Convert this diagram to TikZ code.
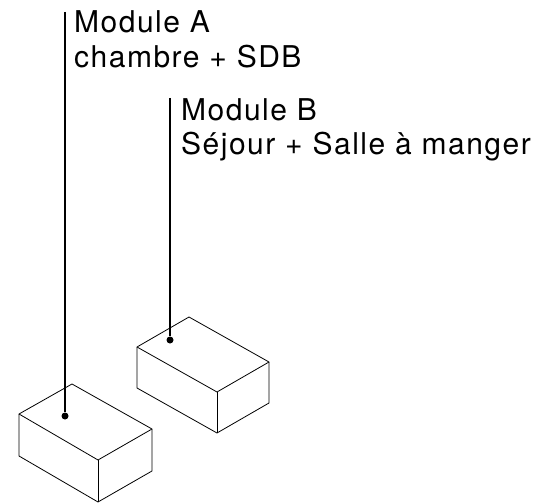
\documentclass[tikz,border=0pt]{standalone}
\usepackage{fontspec}
\setmainfont[LetterSpace=5]{TeX Gyre Heros}
\usetikzlibrary{positioning}

\begin{document}
\begin{tikzpicture}[
	x=1pt, y=-1pt,
	box/.style={draw, line width=0.8pt, line join=round},
	leader/.style={draw, line width=1.5pt},
	point/.style={circle, fill=black, inner sep=0pt, minimum size=7pt},
	caption/.style={align=left, anchor=base west, inner sep=0pt, font=\fontsize{30}{35}\selectfont},
	]
	\useasboundingbox (0,0) rectangle (542,503);
	
	% Module A
	\draw[box] (19,414) -- (72,384) -- (152,429) -- (98,460) -- cycle;
	\draw[box] (19,414) -- (19,456) -- (98,502) -- (152,471) -- (152,429);
	\draw[box] (98,460) -- (98,502);
	
	% Module B
	\draw[box] (137,347) -- (189,317) -- (269,362) -- (217,392) -- cycle;
	\draw[box] (137,347) -- (137,388) -- (217,433) -- (269,403) -- (269,362);
	\draw[box] (217,392) -- (217,433);
	
	% Texte
	\node[caption] (labelA) at (74,68) {Module A\\chambre + SDB};
	\node[caption] (labelB) at (181,155) {Module B\\Séjour + Salle à manger};
	
	% Repères
	\coordinate (topA) at (65,12);
	\coordinate (topB) at (170,98);
	\node[point] (dotA) at (65,416) {};
	\node[point] (dotB) at (170,340) {};
	\path[leader] (topA) -- (dotA);
	\path[leader] (topB) -- (dotB);
	
\end{tikzpicture}
\end{document}
